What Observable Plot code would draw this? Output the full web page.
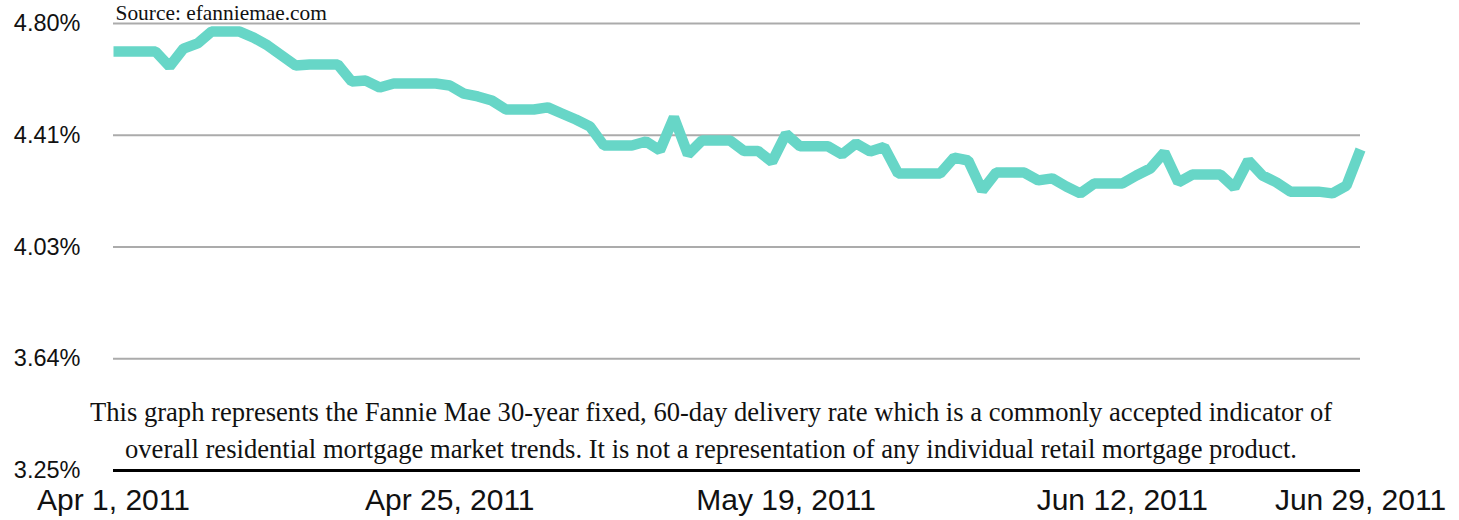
<!DOCTYPE html>
<html>
<head>
<meta charset="utf-8">
<script src="https://cdn.jsdelivr.net/npm/d3@7"></script>
<script src="https://cdn.jsdelivr.net/npm/@observablehq/plot@0.6"></script>
<style>
  html, body { margin: 0; padding: 0; background: #fff; }
</style>
</head>
<body>
<div id="chart"></div>
<script>
// ---- Data ----
const startDate = "2011-04-01";
const endDate = "2011-06-29";
// daily Fannie Mae 30-year fixed, 60-day delivery rate (%), Apr 1 .. Jun 29, 2011
const rates = [
  4.703, 4.703, 4.703, 4.703, 4.651, 4.713, 4.731, 4.772, 4.772, 4.772,
  4.751, 4.724, 4.689, 4.654, 4.658, 4.658, 4.658, 4.599, 4.602, 4.578,
  4.592, 4.592, 4.592, 4.592, 4.585, 4.557, 4.547, 4.533, 4.502, 4.502,
  4.502, 4.509, 4.488, 4.467, 4.443, 4.377, 4.377, 4.377, 4.391, 4.360,
  4.475, 4.346, 4.394, 4.394, 4.394, 4.358, 4.358, 4.320, 4.417, 4.374,
  4.374, 4.374, 4.346, 4.384, 4.356, 4.372, 4.280, 4.280, 4.280, 4.280,
  4.335, 4.325, 4.221, 4.283, 4.283, 4.283, 4.256, 4.263, 4.235, 4.211,
  4.245, 4.245, 4.245, 4.273, 4.297, 4.353, 4.249, 4.276, 4.276, 4.276,
  4.231, 4.325, 4.273, 4.249, 4.217, 4.217, 4.217, 4.211, 4.238, 4.363
];
const yTicks = [3.25, 3.6375, 4.025, 4.4125, 4.80];
const yTickLabels = ["3.25%", "3.64%", "4.03%", "4.41%", "4.80%"];
const xTicks = ["2011-04-01", "2011-04-25", "2011-05-19", "2011-06-12", "2011-06-29"];
const xTickLabels = ["Apr 1, 2011", "Apr 25, 2011", "May 19, 2011", "Jun 12, 2011", "Jun 29, 2011"];
const sourceText = "Source: efanniemae.com";
const captionLines = [
  "This graph represents the Fannie Mae 30-year fixed, 60-day delivery rate which is a commonly accepted indicator of",
  "overall residential mortgage market trends. It is not a representation of any individual retail mortgage product."
];

// ---- Build table ----
const days = d3.utcDay.range(new Date(startDate), d3.utcDay.offset(new Date(endDate), 1));
const data = days.map((d, i) => ({date: d, rate: rates[i]}));
const xTickDates = xTicks.map(s => new Date(s));

const yFmt = d => {
  const i = yTicks.findIndex(t => Math.abs(t - d) < 1e-9);
  return i >= 0 ? yTickLabels[i] : "";
};
const xFmt = d => {
  const i = xTickDates.findIndex(t => +t === +d);
  return i >= 0 ? xTickLabels[i] : "";
};

const chart = Plot.plot({
  width: 1459,
  height: 520,
  marginLeft: 113,
  marginRight: 99,
  marginTop: 23,
  marginBottom: 50,
  style: {fontFamily: "'Liberation Sans', Arial, Helvetica, sans-serif", color: "#111", background: "#fff"},
  x: {type: "utc", domain: [new Date(startDate), new Date(endDate)]},
  y: {domain: [yTicks[0], yTicks[yTicks.length - 1]]},
  marks: [
    Plot.ruleY(yTicks.slice(1), {stroke: "#ababab", strokeWidth: 2}),
    Plot.ruleY([yTicks[0]], {stroke: "#000", strokeWidth: 3}),
    Plot.axisY({ticks: yTicks, tickFormat: yFmt, tickSize: 0, tickPadding: 33, fontSize: 23.5, label: null}),
    Plot.axisX({ticks: xTickDates, tickFormat: xFmt, tickSize: 0, tickPadding: 18, fontSize: 30, label: null}),
    Plot.line(data, {x: "date", y: "rate", stroke: "#67d6c7", strokeWidth: 10.5, strokeLinejoin: "miter", strokeLinecap: "butt"}),
    Plot.text([sourceText], {text: d => d, frameAnchor: "top-left", textAnchor: "start", lineAnchor: "bottom", dx: 2, dy: -4, fontFamily: "'Liberation Serif', 'Times New Roman', serif", fontSize: 21.4, fill: "#111"}),
    Plot.text([captionLines.join("\n")], {text: d => d, frameAnchor: "bottom", lineAnchor: "bottom", dx: -26, dy: -13, fontSize: 26.6, lineHeight: 1.36, fontFamily: "'Liberation Serif', 'Times New Roman', serif", fill: "#111"})
  ]
});
document.getElementById("chart").appendChild(chart);
</script>
</body>
</html>
